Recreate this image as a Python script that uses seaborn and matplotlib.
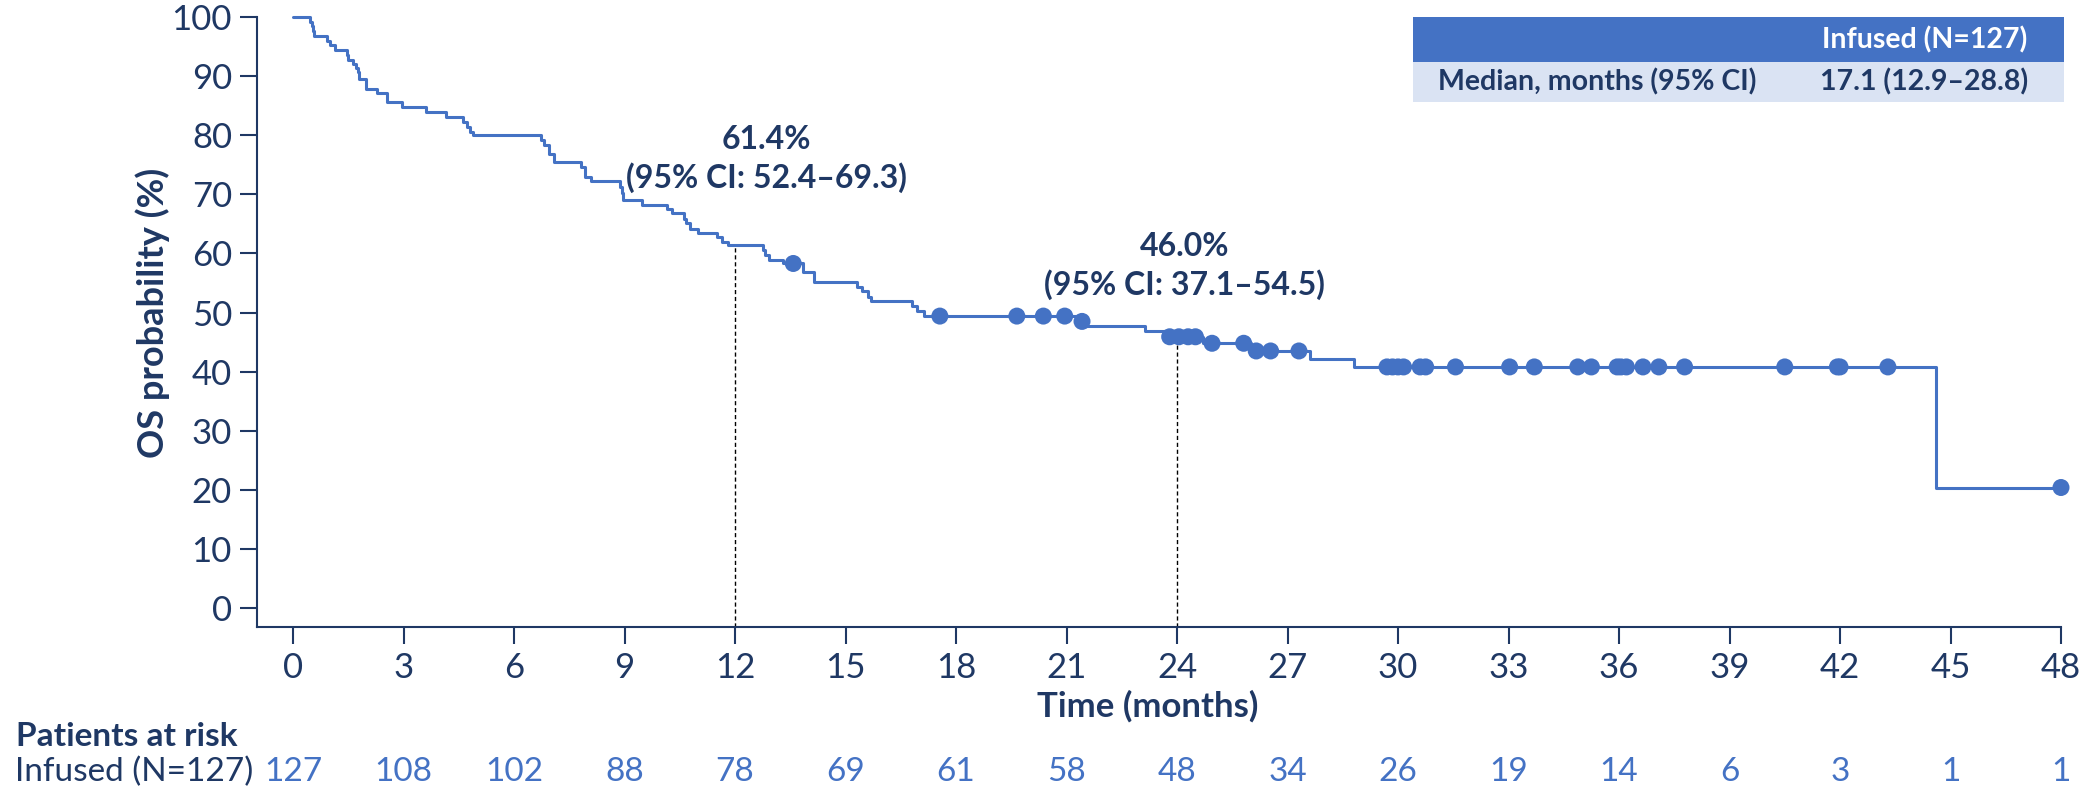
import numpy as np
import pandas as pd
import seaborn as sns
import matplotlib.pyplot as plt
from matplotlib.patches import Rectangle
from matplotlib.transforms import blended_transform_factory

# KM curve (months, OS %)
step_time = [0, 0.45, 0.5, 0.55, 0.58, 0.91, 1.0, 1.14, 1.46, 1.5, 1.64, 1.71, 1.75, 1.78,
             1.98, 2.27, 2.54, 2.95, 3.6, 4.14, 4.62, 4.71, 4.8, 4.89, 6.72, 6.82, 6.95, 7.08,
             7.82, 7.92, 8.08, 8.88, 8.92, 8.96, 9.46, 10.15, 10.28, 10.6, 10.68, 10.77, 11.0,
             11.5, 11.65, 11.82, 12.75, 12.81, 12.93, 13.3, 13.85, 14.15, 15.3, 15.45, 15.6,
             15.7, 16.8, 16.95, 17.13, 21.3, 21.5, 23.13, 23.7, 24.7, 26.0, 27.6, 28.8, 44.6, 48.0]
step_surv = [100, 99.2, 98.4, 97.6, 96.8, 96.0, 95.3, 94.4, 93.6, 92.7, 92.0, 91.3, 90.7, 89.5,
             87.9, 87.2, 85.7, 84.8, 84.0, 83.1, 82.3, 81.4, 80.6, 80.0, 79.2, 78.3, 76.9, 75.4,
             74.7, 73.0, 72.2, 71.3, 70.2, 69.0, 68.2, 67.6, 66.8, 65.9, 65.1, 64.2, 63.5,
             62.7, 62.0, 61.4, 60.6, 59.7, 58.9, 58.3, 56.8, 55.2, 54.4, 53.6, 52.7,
             51.9, 51.1, 50.2, 49.4, 48.5, 47.8, 46.8, 45.9, 44.8, 43.5, 42.2, 40.8, 20.4, 20.4]

# censored observations (months)
censor_time = [13.58, 17.56, 19.65, 20.37, 20.95, 21.42, 23.8, 24.05, 24.3, 24.5, 24.95, 25.81,
               26.15, 26.54, 27.31, 29.7, 29.85, 30.0, 30.15, 30.6, 30.75, 31.56, 33.03, 33.7,
               34.88, 35.25, 35.95, 36.05, 36.2, 36.65, 37.08, 37.78, 40.5, 41.93, 42.0, 43.3, 48.0]

# landmark estimates
landmark_t = [12, 24]
landmark_s = [61.4, 46.0]
landmark_txt = ["61.4%\n(95% CI: 52.4\u201369.3)", "46.0%\n(95% CI: 37.1\u201354.5)"]

# patients at risk
risk_ticks = list(range(0, 49, 3))
at_risk = [127, 108, 102, 88, 78, 69, 61, 58, 48, 34, 26, 19, 14, 6, 3, 1, 1]

navy = "#1F3864"
blue = "#4472C4"

sns.set_style("ticks")
plt.rcParams["font.family"] = ["Lato", "DejaVu Sans"]

km = pd.DataFrame({"time": step_time, "surv": step_surv})
idx = np.searchsorted(step_time, censor_time, side="right") - 1
cens = pd.DataFrame({"time": censor_time, "surv": np.array(step_surv)[idx]})

fig = plt.figure(figsize=(20.88, 7.93), dpi=100)
ax = fig.add_axes([257 / 2088, 1 - 627 / 793, 1804 / 2088, 610 / 793])

sns.lineplot(data=km, x="time", y="surv", drawstyle="steps-post", estimator=None,
             color=blue, lw=2.2, ax=ax, clip_on=False, zorder=3)
sns.scatterplot(data=cens, x="time", y="surv", color=blue, s=150, edgecolor="none",
                ax=ax, clip_on=False, zorder=4)

ax.set_xlim(-0.98, 48)
ax.set_ylim(-3.2, 100)
ax.vlines(landmark_t, -3.2, landmark_s, colors="black", linestyles=(0, (3, 2)), lw=1)

for t, txt, yc in zip(landmark_t, landmark_txt, [76.0, 57.9]):
    ax.text(t + (0.85 if t == 12 else 0.2), yc, txt, ha="center", va="center",
            fontsize=23, fontweight="bold", color=navy, linespacing=1.3)

ax.set_xticks(risk_ticks)
ax.set_yticks(range(0, 101, 10))
sns.despine(ax=ax)
for s in ["left", "bottom"]:
    ax.spines[s].set_color(navy)
    ax.spines[s].set_linewidth(1.5)
ax.tick_params(length=12, width=1.5, color=navy, labelcolor=navy, labelsize=25, pad=6)

ax.set_xlabel("Time (months)", fontsize=25, fontweight="bold", color=navy)
ax.set_ylabel("OS probability (%)", fontsize=26, fontweight="bold", color=navy)
ax.xaxis.set_label_coords(0.494, -0.13)
ax.xaxis.label.set_va("center")
ax.yaxis.set_label_coords(-0.0576, 0.515)
ax.yaxis.label.set_va("center")

# patients at risk table
tr = blended_transform_factory(ax.transData, fig.transFigure)
fig.text(16 / 2088, 1 - 736 / 793, "Patients at risk", fontsize=24, fontweight="bold",
         color=navy, va="center")
fig.text(253 / 2088, 1 - 772 / 793, "Infused (N=127)", fontsize=24, color=navy,
         va="center", ha="right")
for t, n in zip(risk_ticks, at_risk):
    ax.text(t, 1 - 772 / 793, str(n), transform=tr, ha="center", va="center",
            fontsize=24, color=blue)

# median summary box
fig.patches.append(Rectangle((1413 / 2088, 1 - 62 / 793), 651 / 2088, 45 / 793,
                             transform=fig.transFigure, facecolor=blue, edgecolor="none"))
fig.patches.append(Rectangle((1413 / 2088, 1 - 102 / 793), 651 / 2088, 40 / 793,
                             transform=fig.transFigure, facecolor="#DAE3F3", edgecolor="none"))
fig.text(1822 / 2088, 1 - 40 / 793, "Infused (N=127)", fontsize=20.5, fontweight="bold",
         color="white", va="center")
fig.text(1438 / 2088, 1 - 82 / 793, "Median, months (95% CI)", fontsize=20.5,
         fontweight="bold", color=navy, va="center")
fig.text(1820 / 2088, 1 - 82 / 793, "17.1 (12.9\u201328.8)", fontsize=20.5,
         fontweight="bold", color=navy, va="center")

fig.savefig("out.png", dpi=100)
